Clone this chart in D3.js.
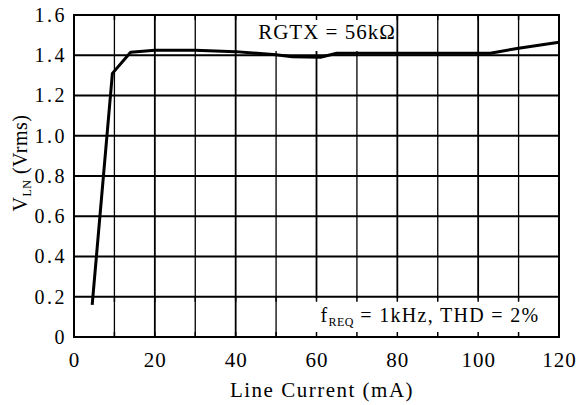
<!DOCTYPE html>
<html><head><meta charset="utf-8">
<script src="https://cdn.jsdelivr.net/npm/d3@7"></script>
<style>body{margin:0;background:#fff}svg{display:block}</style>
</head><body><svg id="c" width="584" height="405"></svg>
<script>
const currentMA = [4.5, 9.5, 14, 20, 30, 40, 50, 54, 61, 65, 80, 100, 103, 110, 120];
const vlnVrms   = [0.16, 1.31, 1.415, 1.425, 1.425, 1.418, 1.402, 1.392, 1.39, 1.41, 1.41, 1.41, 1.41, 1.435, 1.465];
const xTicks = [0, 20, 40, 60, 80, 100, 120];
const yTicks = [0, 0.2, 0.4, 0.6, 0.8, 1.0, 1.2, 1.4, 1.6];
const xGrid = d3.range(0, 121, 10);
const note1 = "RGTX = 56kΩ";

const svg = d3.select("#c");
const L = 74, R = 559, T = 15, B = 337;
const x = d3.scaleLinear().domain([0, 120]).range([L, R]);
const y = d3.scaleLinear().domain([0, 1.6]).range([B, T]);
const font = "'Liberation Serif','Times New Roman',serif";

// grid
svg.append("g").selectAll("line").data(xGrid).join("line")
  .attr("x1", d => x(d)).attr("x2", d => x(d)).attr("y1", T).attr("y2", B)
  .attr("stroke", "#000").attr("stroke-width", d => d % 20 === 0 ? 1.8 : 1.3);
svg.append("g").selectAll("line").data(yTicks).join("line")
  .attr("x1", L).attr("x2", R).attr("y1", d => y(d)).attr("y2", d => y(d))
  .attr("stroke", "#000").attr("stroke-width", 1.8);

// annotation boxes (white backgrounds)
svg.append("rect").attr("x", 238).attr("y", T + 1).attr("width", 158).attr("height", 35).attr("fill", "#fff");
svg.append("rect").attr("x", 290).attr("y", y(0.2) + 1.5).attr("width", R - 291).attr("height", B - y(0.2) - 2.5).attr("fill", "#fff");

// inner tick marks top & bottom
svg.append("g").selectAll("line").data(xGrid).join("line")
  .attr("x1", d => x(d)).attr("x2", d => x(d)).attr("y1", T).attr("y2", T + 5)
  .attr("stroke", "#000").attr("stroke-width", 1.5);
svg.append("g").selectAll("line").data(xGrid).join("line")
  .attr("x1", d => x(d)).attr("x2", d => x(d)).attr("y1", B).attr("y2", B - 5)
  .attr("stroke", "#000").attr("stroke-width", 1.5);
svg.append("g").selectAll("line").data(xGrid).join("line")
  .attr("x1", d => x(d)).attr("x2", d => x(d)).attr("y1", y(0.2)).attr("y2", y(0.2) + 5)
  .attr("stroke", "#000").attr("stroke-width", 1.5);

// frame
svg.append("rect").attr("x", L).attr("y", T).attr("width", R - L).attr("height", B - T)
  .attr("fill", "none").attr("stroke", "#000").attr("stroke-width", 2);

// curve
const pts = currentMA.map((c, i) => [c, vlnVrms[i]]);
svg.append("path").datum(pts)
  .attr("d", d3.line().x(d => x(d[0])).y(d => y(d[1])))
  .attr("fill", "none").attr("stroke", "#000").attr("stroke-width", 3).attr("stroke-linejoin", "round");

// axes labels
const xAxis = d3.axisBottom(x).tickValues(xTicks).tickSize(0).tickPadding(15).tickFormat(d3.format("d"));
const gx = svg.append("g").attr("transform", `translate(0,${B})`).call(xAxis);
gx.select(".domain").remove();
gx.selectAll("text").attr("font-family", font).attr("font-size", 21).attr("letter-spacing", 1).attr("fill", "#000");

const yAxis = d3.axisLeft(y).tickValues(yTicks).tickSize(0).tickPadding(7)
  .tickFormat(d => d === 0 ? "0" : d3.format(".1f")(d));
const gy = svg.append("g").attr("transform", `translate(${L},0)`).call(yAxis);
gy.select(".domain").remove();
gy.selectAll("text").attr("font-family", font).attr("font-size", 20).attr("letter-spacing", 2.5).attr("fill", "#000");

// titles
svg.append("text").attr("x", 322).attr("y", 397).attr("text-anchor", "middle")
  .attr("font-family", font).attr("font-size", 21).attr("letter-spacing", 1.5).text("Line Current (mA)");

const yl = svg.append("text").attr("transform", "translate(27,163) rotate(-90)")
  .attr("text-anchor", "middle").attr("font-family", font).attr("font-size", 20).attr("letter-spacing", 0.5);
yl.append("tspan").text("V");
yl.append("tspan").attr("font-size", 12).attr("dy", 4).text("LN");
yl.append("tspan").attr("dy", -4).text(" (Vrms)");

svg.append("text").attr("x", 327).attr("y", 39).attr("text-anchor", "middle")
  .attr("font-family", font).attr("font-size", 21).attr("letter-spacing", 1).text(note1);

const n2 = svg.append("text").attr("x", 430).attr("y", 321.5).attr("text-anchor", "middle")
  .attr("font-family", font).attr("font-size", 20).attr("letter-spacing", 1.3);
n2.append("tspan").text("f");
n2.append("tspan").attr("font-size", 12).attr("dy", 4).attr("letter-spacing", 0.5).text("REQ");
n2.append("tspan").attr("dy", -4).text(" = 1kHz, THD = 2%");
</script></body></html>
